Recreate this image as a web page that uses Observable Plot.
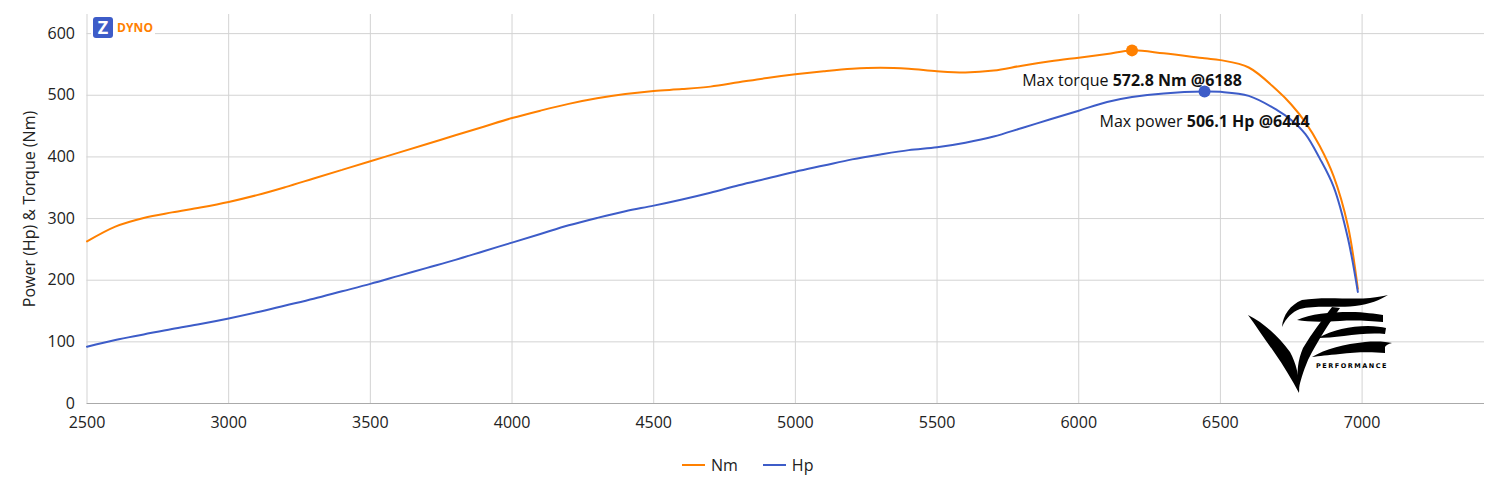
<!DOCTYPE html>
<html><head><meta charset="utf-8">
<script src="https://cdn.jsdelivr.net/npm/d3@7"></script>
<script src="https://cdn.jsdelivr.net/npm/@observablehq/plot@0.6"></script>
<style>
body{margin:0;background:#fff;font-family:"Open Sans",sans-serif;}
#wrap{position:relative;width:1500px;height:500px;overflow:hidden;}
#chart{position:absolute;left:0;top:0;}
#legend{position:absolute;left:682px;top:454px;height:22px;display:flex;align-items:center;font-size:16px;color:#222;}
#legend .sw{display:inline-block;width:23px;height:2px;margin-right:6px;}
#legend .it{display:flex;align-items:center;margin-right:25px;}
#zlogo{position:absolute;left:91px;top:15px;height:24px;padding:0 2px;background:#fff;display:flex;align-items:center;}
#zlogo .sq{width:20px;height:21px;border-radius:3px;background:#3d5cc8;color:#fff;font:bold 18px "Open Sans",sans-serif;display:flex;align-items:center;justify-content:center;line-height:1;}
#zlogo .tx{margin-left:4px;color:#ff8000;font:bold 12px "Open Sans",sans-serif;letter-spacing:0.1px;}
#vze{position:absolute;left:0;top:0;pointer-events:none;}
</style></head><body>
<div id="wrap">
<div id="chart"></div>
<div id="zlogo"><div class="sq">Z</div><div class="tx">DYNO</div></div>
<div id="legend"></div>
<svg id="vze" width="1500" height="500" viewBox="0 0 1500 500">
  <g fill="#000">
    <path d="M1248,315 C1262,322 1278,335 1290,352 C1297,365 1300,380 1299,393 C1292,380 1284,366 1274,352 C1264,338 1256,326 1248,315 Z"/>
    <path d="M1340,308 C1330,322 1318,340 1308,360 C1303,372 1300,382 1299,388 C1296,372 1298,360 1303,348 C1312,333 1322,320 1332,307 Z"/>
    <path d="M1282,327 C1283,315 1290,305 1302,300 C1325,296 1350,300 1370,298 C1378,297 1384,296 1388,295 C1380,300 1370,304 1355,306 C1335,308 1315,305 1300,309 C1292,312 1286,318 1282,327 Z"/>
    <path d="M1297,320 C1310,314 1330,312 1350,312 C1365,312 1375,314 1383,315 L1383,322 C1370,321 1355,320 1340,321 C1322,322 1308,322 1297,320 Z"/>
    <path d="M1318,338 C1332,330 1350,326 1368,326 C1376,326 1382,327 1386,328 L1385,334 C1372,333 1358,334 1344,336 C1334,337 1325,338 1318,338 Z"/>
    <path d="M1312,357 C1325,349 1345,344 1365,342 C1378,341 1387,342 1392,343 C1388,344 1386,345 1385,347 L1385,353 C1372,352 1355,352 1340,354 C1328,355 1319,356 1312,357 Z"/>
  </g>
  <text x="1352" y="367.5" text-anchor="middle" font-family="DejaVu Sans" font-weight="bold" font-size="6.5" letter-spacing="1.5" fill="#000">PERFORMANCE</text>
</svg>
</div>
<script>
// ---- data ----
const rpm      = [2500,2600,2700,2800,2900,3000,3100,3200,3300,3400,3500,3600,3700,3800,3900,4000,4100,4200,4300,4400,4500,4600,4700,4800,4900,5000,5100,5200,5300,5400,5500,5600,5700,5800,5900,6000,6100,6188,6300,6444,6500,6600,6700,6750,6800,6850,6900,6950,6985];
const torqueNm = [263,287,301,310,318,327,338,351,365,379,393,407,421,435,449,463,475,486,495,502,507,510,514,521,528,534,539,543,544.6,543,539,537,540,548,555,561,567,572.8,568,560,557,545,508,485,456,418,368,288,186];
const powerHp  = [92,103,112,121,129,138,148,159,170,182,194,207,220,233,247,261,275,289,301,312,321,331,342,354,365,376,386,396,404,411,415.6,423,433,447,461,475,489,497,503,506.1,505.5,499,476,460,437,398,351,268,181];
const seriesNames = ["Nm","Hp"];
const seriesColors = ["#ff8000","#3d5cc8"];
const xTicks = [2500,3000,3500,4000,4500,5000,5500,6000,6500,7000];
const yTicks = [0,100,200,300,400,500,600];
const peakSeries = ["Nm","Hp"];
const peakRpm = [6188,6444];
const peakValue = [572.8,506.1];
const peakPre = ["Max torque ","Max power "];
const peakBold = ["572.8 Nm @6188","506.1 Hp @6444"];
const yLabel = "Power (Hp) & Torque (Nm)";

const data = [];
rpm.forEach((r,i)=>{ data.push({rpm:r,v:torqueNm[i],s:"Nm"}); });
rpm.forEach((r,i)=>{ data.push({rpm:r,v:powerHp[i],s:"Hp"}); });
const peaks = peakRpm.map((r,i)=>({rpm:r,v:peakValue[i],s:peakSeries[i],pre:peakPre[i],bold:peakBold[i]}));

const plot = Plot.plot({
  width:1500, height:440,
  marginLeft:86.5, marginRight:16, marginTop:14, marginBottom:37,
  style:{fontFamily:"'Open Sans', sans-serif", fontSize:"16px", color:"#222", background:"transparent", overflow:"visible"},
  x:{domain:[2500,7432], ticks:xTicks, tickFormat:d3.format("d"), tickSize:0, tickPadding:13, label:null},
  y:{domain:[0,631], ticks:yTicks, tickSize:0, tickPadding:12, label:yLabel, labelAnchor:"center", labelOffset:63, labelArrow:"none"},
  color:{domain:seriesNames, range:seriesColors},
  marks:[
    Plot.ruleY(yTicks.slice(1), {stroke:"#d3d3d3", strokeWidth:1}),
    Plot.ruleX(xTicks, {stroke:"#d3d3d3", strokeWidth:1}),
    Plot.ruleY([0], {stroke:"#aaa", strokeWidth:1.2}),
    Plot.line(data, {x:"rpm", y:"v", z:"s", stroke:"s", strokeWidth:2, curve:"catmull-rom"}),
    Plot.dot(peaks, {x:"rpm", y:"v", fill:"s", r:6}),
    Plot.text(peaks, {x:"rpm", y:"v", text:d=>d.pre+d.bold, dy:30, fontSize:16, fill:"#111", textAnchor:"middle", className:"ann"})
  ]
});
document.getElementById("chart").appendChild(plot);

// mixed-weight annotation text
plot.querySelectorAll(".ann text").forEach((t,i)=>{
  const p = peaks[i];
  while (t.firstChild) t.removeChild(t.firstChild);
  const a = document.createElementNS("http://www.w3.org/2000/svg","tspan");
  a.textContent = p.pre;
  const b = document.createElementNS("http://www.w3.org/2000/svg","tspan");
  b.textContent = p.bold; b.setAttribute("font-weight","bold");
  t.appendChild(a); t.appendChild(b);
});

// legend
const lg = document.getElementById("legend");
seriesNames.forEach((n,i)=>{
  const it = document.createElement("div"); it.className="it";
  const sw = document.createElement("span"); sw.className="sw"; sw.style.background=seriesColors[i];
  const tx = document.createElement("span"); tx.textContent=n;
  it.appendChild(sw); it.appendChild(tx); lg.appendChild(it);
});
</script>
</body></html>
